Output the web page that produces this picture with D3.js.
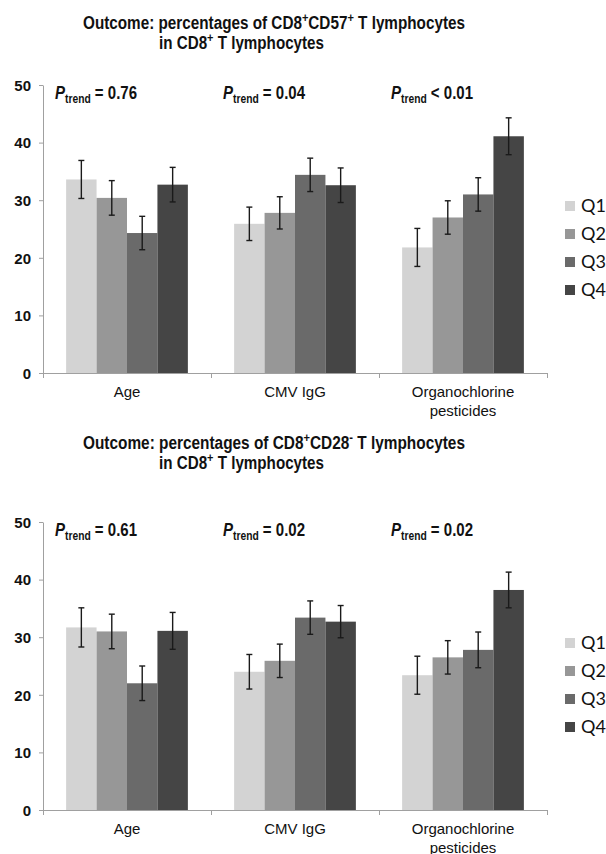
<!DOCTYPE html>
<html>
<head>
<meta charset="utf-8">
<script src="https://cdn.jsdelivr.net/npm/d3@7"></script>
<style>
  body { margin: 0; background: #fff; }
  svg text { font-family: "Liberation Sans", Arial, sans-serif; }
  .narrow { font-family: "Liberation Sans Narrow", "Arial Narrow", "Liberation Sans", sans-serif !important; }
</style>
</head>
<body>
<svg id="chart" width="606" height="854"></svg>
<script>
const categories = ["Age", "CMV IgG", "Organochlorine\npesticides"];
const quartiles = ["Q1", "Q2", "Q3", "Q4"];
const yTicks = [0, 10, 20, 30, 40, 50];

// CD8+CD57+ panel
const cd57Values = [[33.6, 30.4, 24.3, 32.7], [25.9, 27.8, 34.4, 32.6], [21.8, 27.0, 31.0, 41.1]];
const cd57Errors = [[3.3, 3.0, 2.9, 3.0], [2.9, 2.8, 2.9, 3.0], [3.3, 2.9, 2.9, 3.2]];
const cd57Trend = ["= 0.76", "= 0.04", "< 0.01"];

// CD8+CD28- panel
const cd28Values = [[31.7, 31.0, 22.0, 31.1], [24.0, 25.9, 33.4, 32.7], [23.4, 26.5, 27.8, 38.2]];
const cd28Errors = [[3.4, 3.0, 3.0, 3.2], [3.0, 2.9, 2.9, 2.8], [3.3, 2.9, 3.1, 3.1]];
const cd28Trend = ["= 0.61", "= 0.02", "= 0.02"];

const colors = ["#d3d3d3", "#979797", "#6a6a6a", "#454545"];

const svg = d3.select("svg#chart");

function drawTitle(y, marker) {
    const t = svg.append("g");
    const l1 = t.append("text")
        .attr("class", "narrow")
        .attr("x", 83).attr("y", y)
        .attr("textLength", 382).attr("lengthAdjust", "spacingAndGlyphs")
        .style("font-size", "18px").style("font-weight", "bold").attr("fill", "#111");
    l1.append("tspan").text("Outcome: percentages of CD8");
    l1.append("tspan").attr("dy", -7).style("font-size", "13px").text("+");
    l1.append("tspan").attr("dy", 7).text("CD" + marker[0]);
    l1.append("tspan").attr("dy", -7).style("font-size", "13px").text(marker[1]);
    l1.append("tspan").attr("dy", 7).text(" T lymphocytes");

    const l2 = t.append("text")
        .attr("class", "narrow")
        .attr("x", 159).attr("y", y + 20)
        .attr("textLength", 165).attr("lengthAdjust", "spacingAndGlyphs")
        .style("font-size", "18px").style("font-weight", "bold").attr("fill", "#111");
    l2.append("tspan").text("in CD8");
    l2.append("tspan").attr("dy", -7).style("font-size", "13px").text("+");
    l2.append("tspan").attr("dy", 7).text(" T lymphocytes");
}

function drawPanel(top, values, errors, trend) {
    const g = svg.append("g").attr("transform", `translate(0, ${top})`);

    const scaleX = d3.scaleBand()
        .domain(categories)
        .range([43, 547]);
    const scaleQ = d3.scaleBand()
        .domain(quartiles)
        .range([0, scaleX.bandwidth()])
        .paddingOuter(0.76);
    const scaleY = d3.scaleLinear()
        .domain([0, 50])
        .range([288, 0]);

    // y axis
    const axisY = d3.axisLeft(scaleY)
        .tickValues(yTicks)
        .tickSize(4)
        .tickSizeOuter(0)
        .tickPadding(8);
    const gy = g.append("g")
        .attr("transform", "translate(43, 0)")
        .call(axisY);
    gy.select(".domain").attr("stroke", "#a0a0a0");
    gy.selectAll(".tick line").attr("stroke", "#a0a0a0");
    gy.selectAll(".tick text")
        .style("font-size", "15px")
        .style("font-weight", "bold")
        .attr("fill", "#111")
        .attr("dy", "0.35em");

    // bars
    const groups = g.selectAll("g.cat")
        .data(values)
        .join("g")
        .attr("class", "cat")
        .attr("transform", (d, i) => `translate(${scaleX(categories[i])}, 0)`);

    groups.selectAll("rect")
        .data(d => d)
        .join("rect")
        .attr("x", (d, j) => scaleQ(quartiles[j]))
        .attr("width", scaleQ.bandwidth())
        .attr("y", d => scaleY(d))
        .attr("height", d => scaleY(0) - scaleY(d))
        .attr("fill", (d, j) => colors[j]);

    // error bars
    groups.each(function (d, i) {
        const eg = d3.select(this);
        d.forEach((v, j) => {
            const cx = scaleQ(quartiles[j]) + scaleQ.bandwidth() / 2;
            const e = errors[i][j];
            const y1 = scaleY(v + e), y2 = scaleY(v - e);
            eg.append("line")
                .attr("x1", cx).attr("x2", cx).attr("y1", y1).attr("y2", y2)
                .attr("stroke", "#1a1a1a").attr("stroke-width", 1.4);
            [y1, y2].forEach(yy => {
                eg.append("line")
                    .attr("x1", cx - 3).attr("x2", cx + 3).attr("y1", yy).attr("y2", yy)
                    .attr("stroke", "#1a1a1a").attr("stroke-width", 1.4);
            });
        });
    });

    // x axis line with boundary ticks
    const scaleB = d3.scaleLinear().domain([0, categories.length]).range([43, 547]);
    const axisX = d3.axisBottom(scaleB)
        .tickValues(d3.range(categories.length + 1))
        .tickFormat("")
        .tickSize(5)
        .tickSizeOuter(0);
    const gx = g.append("g")
        .attr("transform", `translate(0, ${scaleY(0)})`)
        .call(axisX);
    gx.select(".domain").attr("stroke", "#a0a0a0");
    gx.selectAll(".tick line").attr("stroke", "#a0a0a0");

    // category labels
    g.selectAll("text.cat")
        .data(categories)
        .join("text")
        .attr("class", "cat")
        .attr("x", d => scaleX(d) + scaleX.bandwidth() / 2)
        .attr("y", scaleY(0) + 24)
        .attr("text-anchor", "middle")
        .style("font-size", "15px")
        .attr("fill", "#111")
        .each(function (d) {
            d.split("\n").forEach((line, k) => {
                d3.select(this).append("tspan")
                    .attr("x", scaleX(d) + scaleX.bandwidth() / 2)
                    .attr("dy", k === 0 ? 0 : 18.5)
                    .text(line);
            });
        });

    // P trend labels
    trend.forEach((t, i) => {
        const txt = g.append("text")
            .attr("class", "narrow")
            .attr("x", scaleX(categories[i]) + 12)
            .attr("y", 14)
            .attr("textLength", 82).attr("lengthAdjust", "spacingAndGlyphs")
            .style("font-weight", "bold")
            .style("font-size", "19px")
            .attr("fill", "#111");
        txt.append("tspan").style("font-style", "italic").text("P");
        txt.append("tspan").attr("dy", 4).style("font-size", "13px").text("trend");
        txt.append("tspan").attr("dy", -4).text(" " + t);
    });

    // legend
    const legend = g.append("g").attr("transform", "translate(565, 121)");
    quartiles.forEach((q, j) => {
        legend.append("rect")
            .attr("x", 0).attr("y", j * 28 - 5)
            .attr("width", 10).attr("height", 10)
            .attr("fill", colors[j]);
        legend.append("text")
            .attr("x", 16).attr("y", j * 28)
            .attr("dy", "0.36em")
            .style("font-family", "Lato, 'Open Sans', sans-serif")
            .style("font-size", "18px")
            .attr("fill", "#111")
            .text(q);
    });
}

drawTitle(29, ["57", "+"]);
drawPanel(85, cd57Values, cd57Errors, cd57Trend);

drawTitle(449, ["28", "-"]);
drawPanel(522, cd28Values, cd28Errors, cd28Trend);
</script>
</body>
</html>
